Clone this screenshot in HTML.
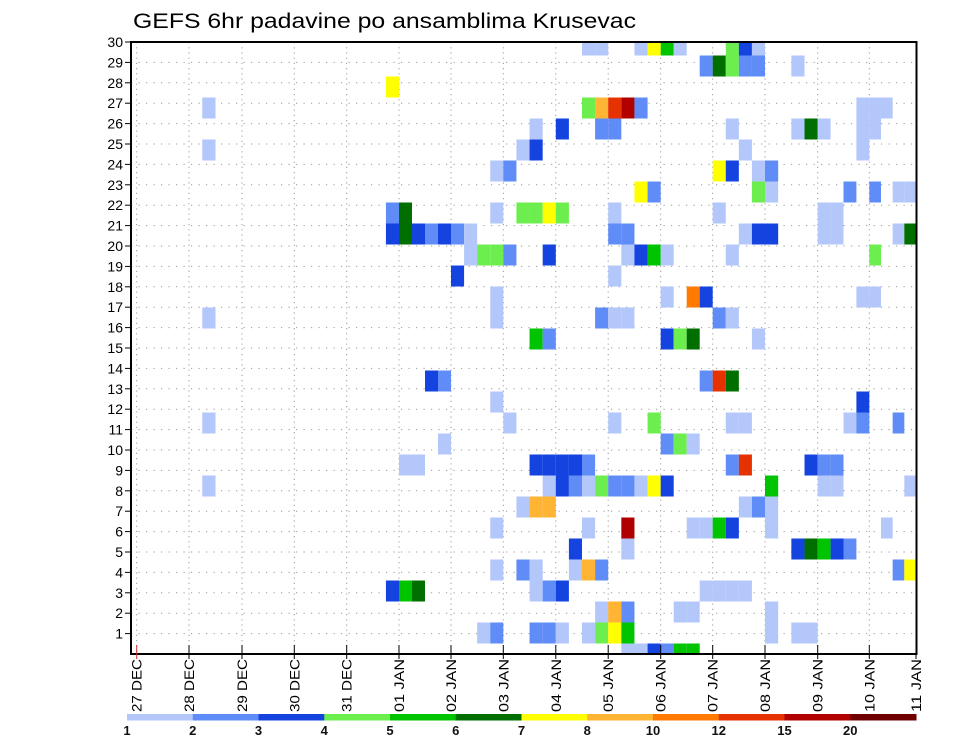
<!DOCTYPE html>
<html><head><meta charset="utf-8"><style>
html,body{margin:0;padding:0;background:#fff;}
svg{display:block;font-family:"Liberation Sans",sans-serif;}
</style></head><body>
<svg id="chart" width="960" height="742" viewBox="0 0 960 742" xmlns="http://www.w3.org/2000/svg">
<text x="133" y="28" font-size="21" textLength="503" lengthAdjust="spacingAndGlyphs" fill="#000">GEFS 6hr padavine po ansamblima Krusevac</text>
<g id="grid"></g>
<g id="cells" clip-path="url(#plotclip)"></g>
<defs><clipPath id="plotclip"><rect x="131" y="42" width="786" height="612"/></clipPath></defs>
<rect x="131" y="42" width="785.5" height="612" fill="none" stroke="#000" stroke-width="2"/>
<g id="axes"></g>
<g id="legend"></g>
</svg>
<script>
// categories
const dayLabels = ["27 DEC","28 DEC","29 DEC","30 DEC","31 DEC","01 JAN","02 JAN","03 JAN","04 JAN","05 JAN","06 JAN","07 JAN","08 JAN","09 JAN","10 JAN","11 JAN"];
const memberTicks = [1,2,3,4,5,6,7,8,9,10,11,12,13,14,15,16,17,18,19,20,21,22,23,24,25,26,27,28,29,30];
const legendLabels = ["1","2","3","4","5","6","7","8","10","12","15","20"];
const levelColors = ["#b4c7fb","#5f8cf6","#1443e0","#6cee4e","#00c400","#006f00","#ffff00","#ffb433","#ff7a00","#e63200","#b00000","#700000"];
// data: member index, 6h time step, precipitation class
const cellMember = [
29,29,29,29,29,29,29,29,29,
28,28,28,28,28,28,
27,
26,26,26,26,26,26,26,26,26,
25,25,25,25,25,25,25,25,25,25,
24,24,24,24,24,
23,23,23,23,23,23,
22,22,22,22,22,22,22,22,
21,21,21,21,21,21,21,21,21,21,21,
20,20,20,20,20,20,20,20,20,20,20,20,20,20,20,20,
19,19,19,19,19,19,19,19,19,19,19,
18,18,
17,17,17,17,17,17,
16,16,16,16,16,16,16,
15,15,15,15,15,15,
13,13,13,13,13,
12,12,
11,11,11,11,11,11,11,11,11,
10,10,10,10,
9,9,9,9,9,9,9,9,9,9,9,9,
8,8,8,8,8,8,8,8,8,8,8,8,8,8,8,
7,7,7,7,7,7,
6,6,6,6,6,6,6,6,6,
5,5,5,5,5,5,5,
4,4,4,4,4,4,4,4,
3,3,3,3,3,3,3,3,3,3,
2,2,2,2,2,2,
1,1,1,1,1,1,1,1,1,1,1,1,
0,0,0,0,0,0];
const cellTime = [
35,36,39,40,41,42,46,47,48,
44,45,46,47,48,51,
20,
6,35,36,37,38,39,56,57,58,
31,33,36,37,46,51,52,53,56,57,
6,30,31,47,56,
28,29,45,46,48,49,
39,40,48,49,55,57,59,60,
20,21,28,30,31,32,33,37,45,53,54,
20,21,22,23,24,25,26,37,38,47,48,49,53,54,59,60,
26,27,28,29,32,38,39,40,41,46,57,
25,37,
28,41,43,44,56,57,
6,28,36,37,38,45,46,
31,32,41,42,43,48,
23,24,44,45,46,
28,56,
6,29,37,40,46,47,55,56,59,
24,41,42,43,
21,22,31,32,33,34,35,46,47,52,53,54,
6,32,33,34,35,36,37,38,39,40,41,49,53,54,60,
30,31,32,47,48,49,
28,35,38,43,44,45,46,49,58,
34,38,51,52,53,54,55,
28,30,31,34,35,36,59,60,
20,21,22,31,32,33,44,45,46,47,
36,37,38,42,43,49,
27,28,31,32,33,35,36,37,38,49,51,52,
38,39,40,41,42,43];
const cellLevel = [
0,0,0,6,4,0,3,2,0,
1,5,3,1,1,0,
6,
0,3,7,9,10,1,0,0,0,
0,2,1,1,0,0,5,0,0,0,
0,0,2,0,0,
0,1,6,2,0,1,
6,1,3,0,1,1,0,0,
1,5,0,3,3,6,3,0,0,0,0,
2,5,2,1,2,1,0,1,1,0,2,2,0,0,0,5,
0,3,3,1,2,0,2,4,0,0,3,
2,0,
0,0,8,2,0,0,
0,0,1,0,0,1,0,
4,1,2,3,5,0,
2,1,1,9,5,
0,2,
0,0,0,3,0,0,0,1,1,
0,1,3,0,
0,0,2,2,2,2,1,1,9,2,1,1,
0,0,2,1,0,3,1,1,0,6,2,4,0,0,0,
0,7,7,0,1,0,
0,0,10,0,0,4,2,0,0,
2,0,2,5,4,2,1,
0,1,0,0,7,1,1,6,
2,4,5,0,1,2,0,0,0,0,
0,7,1,0,0,0,
0,1,1,1,0,0,3,6,4,0,0,0,
0,0,2,1,4,4];

const NS = "http://www.w3.org/2000/svg";
const dayPos = [136.7,189,242,294.3,346.7,399,451,503.3,555.8,608.2,660.7,712.7,765,817.7,869.3,916];
function xOf(t){ const d=Math.max(0,Math.min(14.999,t/4)); const i=Math.floor(d); return dayPos[i]+(dayPos[i+1]-dayPos[i])*(d-i); }
function xStep(t){ if(t<0) return dayPos[0]+t*13.07; return xOf(t); }
function yAxis(v){ return 654 - v*20.4; }
function yCell(k){ return 654 - k*21; }
function mk(tag, attrs, parent){ const e=document.createElementNS(NS,tag); for(const a in attrs) e.setAttribute(a,attrs[a]); parent.appendChild(e); return e; }

const grid=document.getElementById('grid');
memberTicks.forEach(v=>{
  const l=mk('line',{x1:131,x2:916,y1:yAxis(v),y2:yAxis(v),stroke:'#999','stroke-width':1,'stroke-dasharray':'1.2 6.3'},grid);
  
  
});
dayLabels.forEach((d,i)=>{
  const l=mk('line',{x1:dayPos[i],x2:dayPos[i],y1:42,y2:654,stroke:'#999','stroke-width':1,'stroke-dasharray':'1.2 4'},grid);
  
  
});

const cells=document.getElementById('cells');
for(let i=0;i<cellMember.length;i++){
  const t=cellTime[i], k=cellMember[i];
  const x0=xStep(t-1), x1=xStep(t);
  const r=mk('rect',{x:x0,y:yCell(k)-10.5,width:x1-x0,height:21,fill:levelColors[cellLevel[i]]},cells);
  
  
}

const axes=document.getElementById('axes');
memberTicks.forEach(v=>{
  mk('line',{x1:125,x2:131,y1:yAxis(v),y2:yAxis(v),stroke:'#000','stroke-width':1},axes);
  const t=mk('text',{x:123,y:yAxis(v)+5,'font-size':14,'text-anchor':'end',fill:'#000'},axes);
  t.textContent=v;
  
  
});
dayLabels.forEach((d,i)=>{
  const x=dayPos[i];
  mk('line',{x1:x,x2:x,y1:645,y2:659,stroke:i===0?'#c33':'#000','stroke-width':1},axes);
  const t=mk('text',{x:0,y:0,'font-size':14,transform:`translate(${x+5},712) rotate(-90)`,textLength:53,lengthAdjust:'spacingAndGlyphs',fill:'#000'},axes);
  t.textContent=d;
  
  
});

const legend=document.getElementById('legend');
const lw=(916-127)/levelColors.length;
levelColors.forEach((c,i)=>{
  const r=mk('rect',{x:127+i*lw,y:714,width:lw+0.5,height:6.5,fill:c},legend);
  
  
});
legendLabels.forEach((s,i)=>{
  const t=mk('text',{x:127+i*lw,y:735,'font-size':13,'font-weight':'bold','text-anchor':'middle',fill:'#111'},legend);
  t.textContent=s;
  
  
});
</script>
</body></html>
